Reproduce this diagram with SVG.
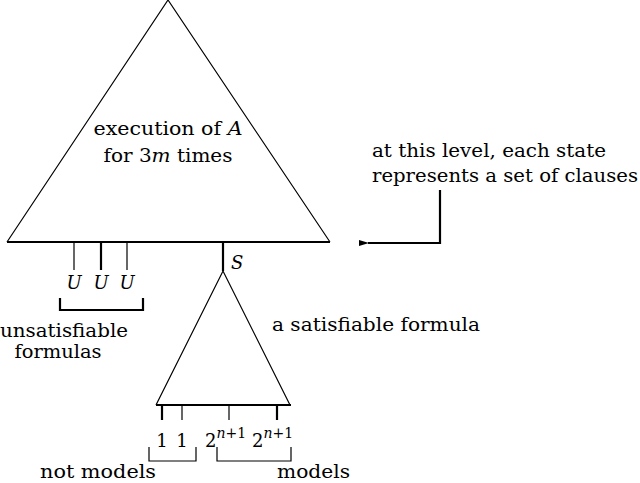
<svg xmlns="http://www.w3.org/2000/svg" width="640" height="483" viewBox="0 0 640 483">
<style>
text{font-family:'DejaVu Serif',serif;font-size:18px;fill:#000}
.i{font-style:italic}
.ln{stroke:#000;fill:none;stroke-width:1.2}
.th{stroke:#000;fill:none;stroke-width:2.2}
</style>
<defs>
<marker id="ah" markerWidth="10" markerHeight="8" refX="1" refY="4" orient="auto" markerUnits="userSpaceOnUse">
<path d="M10,1 L0,4 L10,7 Z" fill="#000"/>
</marker>
</defs>
<rect width="640" height="483" fill="#fff"/>
<g id="big-triangle">
<path class="ln" d="M7,242 L168,0 L330,242"/>
<line class="th" x1="7" y1="242" x2="330" y2="242"/>
<text x="168" y="135" text-anchor="middle" textLength="149" lengthAdjust="spacingAndGlyphs">execution of <tspan class="i">A</tspan></text>
<text x="168" y="162" text-anchor="middle" textLength="129" lengthAdjust="spacingAndGlyphs">for 3<tspan class="i">m</tspan> times</text>
</g>
<g id="unsat">
<line class="ln" x1="74" y1="242" x2="74" y2="270"/>
<line class="th" x1="101" y1="242" x2="101" y2="270"/>
<line class="ln" x1="127" y1="242" x2="127" y2="270"/>
<text class="i" x="74" y="289" text-anchor="middle">U</text>
<text class="i" x="101" y="289" text-anchor="middle">U</text>
<text class="i" x="127" y="289" text-anchor="middle">U</text>
<path class="th" d="M60,298 V310 H143 V298"/>
<text x="64" y="337" text-anchor="middle" textLength="128" lengthAdjust="spacingAndGlyphs">unsatisfiable</text>
<text x="58" y="358" text-anchor="middle" textLength="87" lengthAdjust="spacingAndGlyphs">formulas</text>
</g>
<g id="sat-triangle">
<line class="th" x1="223" y1="242" x2="223" y2="271"/>
<text class="i" x="231" y="269">S</text>
<path class="ln" d="M156,405 L223,271 L290,405"/>
<line class="th" x1="156" y1="405" x2="291" y2="405"/>
<text x="272" y="331" textLength="208" lengthAdjust="spacingAndGlyphs">a satisfiable formula</text>
</g>
<g id="models">
<line class="th" x1="162" y1="405" x2="162" y2="420"/>
<line class="ln" x1="182" y1="405" x2="182" y2="420"/>
<line class="ln" x1="229" y1="405" x2="229" y2="420"/>
<line class="th" x1="277" y1="405" x2="277" y2="420"/>
<text x="162" y="447" text-anchor="middle">1</text>
<text x="182" y="447" text-anchor="middle">1</text>
<text x="205" y="447">2<tspan font-size="14" dy="-9"><tspan class="i">n</tspan>+1</tspan></text>
<text x="252" y="447">2<tspan font-size="14" dy="-9"><tspan class="i">n</tspan>+1</tspan></text>
<path class="ln" d="M149,447 V461 H196 V447" stroke-width="1.8"/>
<path class="ln" d="M217,447 V461 H291 V447" stroke-width="1.8"/>
<text x="40" y="478" textLength="116" lengthAdjust="spacingAndGlyphs">not models</text>
<text x="277" y="478" textLength="73" lengthAdjust="spacingAndGlyphs">models</text>
</g>
<g id="note">
<text x="372" y="157" textLength="234" lengthAdjust="spacingAndGlyphs">at this level, each state</text>
<text x="372" y="182" textLength="266" lengthAdjust="spacingAndGlyphs">represents a set of clauses</text>
</g>
<g id="connectors">
<path class="th" d="M440,190 V243 H368" marker-end="url(#ah)"/>
</g>
</svg>
